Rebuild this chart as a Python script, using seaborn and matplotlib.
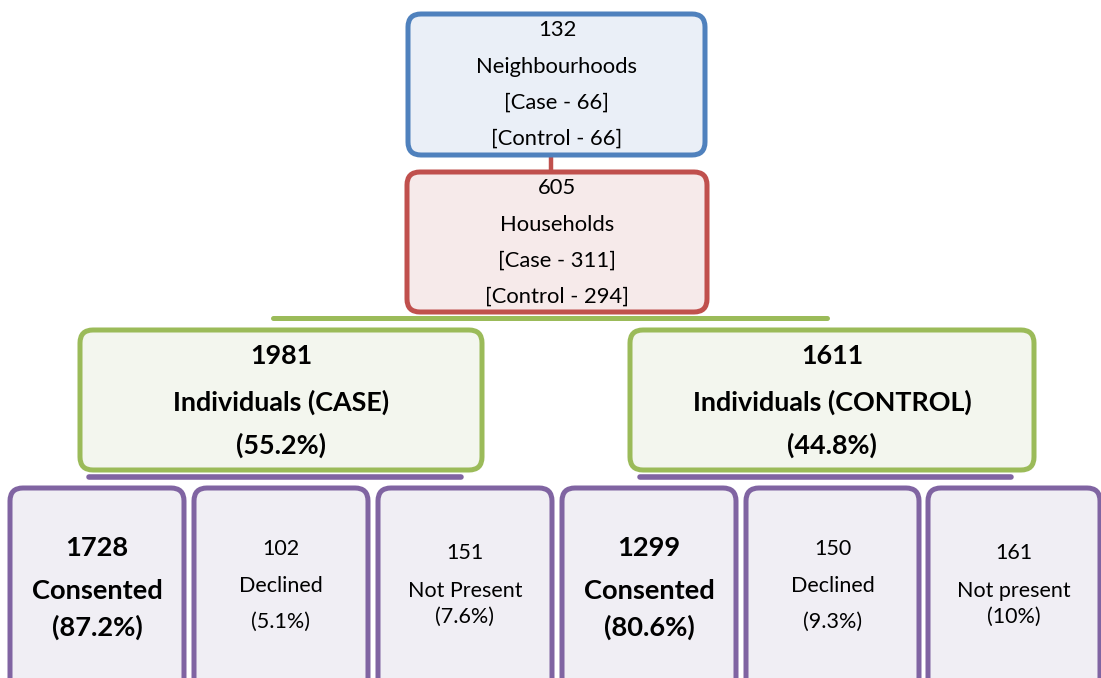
import matplotlib
matplotlib.use("Agg")
import matplotlib.pyplot as plt
from matplotlib.patches import FancyBboxPatch
import seaborn as sns

# Dados do fluxograma
top_counts = [132, 605]
top_names = ['Neighbourhoods', 'Households']
top_case = [66, 311]
top_control = [66, 294]

group_counts = [1981, 1611]
group_names = ['Individuals (CASE)', 'Individuals (CONTROL)']
group_pct = ['55.2%', '44.8%']

outcome_counts = [1728, 102, 151, 1299, 150, 161]
outcome_names = ['Consented', 'Declined', 'Not Present', 'Consented', 'Declined', 'Not present']
outcome_pct = ['87.2%', '5.1%', '7.6%', '80.6%', '9.3%', '10%']

# Cores (estilo Office)
blue, blue_bg = '#4F81BD', '#EAEFF7'
red, red_bg = '#C0504D', '#F6EAEA'
green, green_bg = '#9BBB59', '#F3F6EE'
purple, purple_bg = '#8064A2', '#F0EEF4'

sns.set_theme(style="white")
plt.rcParams['font.family'] = ['Lato', 'DejaVu Sans']

fig = plt.figure(figsize=(11.01, 6.78), dpi=100)
ax = fig.add_axes([0, 0, 1, 1])
ax.set_xlim(0, 1101)
ax.set_ylim(678, 0)
ax.axis('off')


def box(x0, y0, x1, y1, ec, fc):
    p = FancyBboxPatch((x0, y0), x1 - x0, y1 - y0,
                       boxstyle="round,pad=0,rounding_size=13",
                       ec=ec, fc=fc, lw=3.6, zorder=3)
    ax.add_patch(p)


def lines(cx, ys, texts, size, bold=False):
    for y, t in zip(ys, texts):
        ax.text(cx, y, t, ha='center', va='center', fontsize=size,
                fontweight='bold' if bold else 'normal', color='black', zorder=5)


# Conectores
ax.plot([551, 551], [150, 175], color=red, lw=3.2, zorder=1)
ax.plot([273, 827], [318, 318], color=green, lw=3.6, zorder=1)
ax.plot([89, 461], [477, 477], color=purple, lw=4, zorder=1)
ax.plot([640, 1011], [477, 477], color=purple, lw=4, zorder=1)

# Caixas superiores
top_boxes = [(408, 14, 705, 155, blue, blue_bg), (407, 172, 707, 312, red, red_bg)]
for i, (x0, y0, x1, y1, ec, fc) in enumerate(top_boxes):
    box(x0, y0, x1, y1, ec, fc)
    lines(557, [y0 + 16, y0 + 53, y0 + 89, y0 + 125],
          [str(top_counts[i]), top_names[i],
           f'[Case - {top_case[i]}]', f'[Control - {top_control[i]}]'], 15.8)

# Caixas de indivíduos
group_boxes = [(80, 330, 482, 470), (630, 330, 1034, 470)]
for i, (x0, y0, x1, y1) in enumerate(group_boxes):
    box(x0, y0, x1, y1, green, green_bg)
    cx = (x0 + x1) / 2
    lines(cx, [356, 402, 445],
          [str(group_counts[i]), group_names[i], f'({group_pct[i]})'], 19.4, bold=True)

# Caixas de resultados
outcome_x = [(10, 184), (194, 368), (378, 552), (562, 736), (746, 919), (928, 1100)]
for i, (x0, x1) in enumerate(outcome_x):
    box(x0, 488, x1, 700, purple, purple_bg)
    cx = (x0 + x1) / 2
    if outcome_names[i] == 'Consented':
        lines(cx, [548, 591, 627],
              [str(outcome_counts[i]), outcome_names[i], f'({outcome_pct[i]})'], 19.6, bold=True)
    elif outcome_names[i] == 'Declined':
        lines(cx, [549, 586, 622],
              [str(outcome_counts[i]), outcome_names[i], f'({outcome_pct[i]})'], 15.5)
    else:
        lines(cx, [553, 591, 617],
              [str(outcome_counts[i]), outcome_names[i], f'({outcome_pct[i]})'], 15.5)

plt.savefig('out.png', dpi=100)
